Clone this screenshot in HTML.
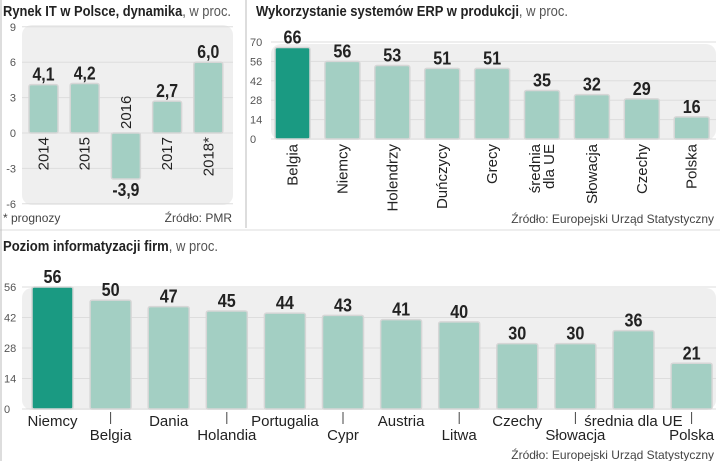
<!DOCTYPE html>
<html><head><meta charset="utf-8"><style>
body{margin:0;background:#fff;width:720px;height:461px;overflow:hidden;font-family:"Liberation Sans",sans-serif}
svg text{font-family:"Liberation Sans",sans-serif}
</style></head><body>
<svg id="s" width="720" height="461" xmlns="http://www.w3.org/2000/svg">
<line x1="246" y1="0" x2="246" y2="228" stroke="#bbb"/>
<line x1="0" y1="230" x2="720" y2="230" stroke="#ddd"/>
<line x1="1" y1="0" x2="1" y2="461" stroke="#bbb"/>
<text x="3" y="16" font-size="15" fill="#222" textLength="228" lengthAdjust="spacingAndGlyphs"><tspan font-weight="bold">Rynek IT w Polsce, dynamika</tspan><tspan fill="#555">, w proc.</tspan></text>
<text x="256" y="16" font-size="15" fill="#222" textLength="312" lengthAdjust="spacingAndGlyphs"><tspan font-weight="bold">Wykorzystanie systemów ERP w produkcji</tspan><tspan fill="#555">, w proc.</tspan></text>
<text x="3" y="251" font-size="15" fill="#222" textLength="215" lengthAdjust="spacingAndGlyphs"><tspan font-weight="bold">Poziom informatyzacji firm</tspan><tspan fill="#555">, w proc.</tspan></text>
<text x="3" y="222" font-size="12" fill="#444">* prognozy</text>
<text x="232" y="222" font-size="12" fill="#444" text-anchor="end">Źródło: PMR</text>
<text x="714" y="223" font-size="12" fill="#444" text-anchor="end">Źródło: Europejski Urząd Statystyczny</text>
<text x="714" y="459" font-size="12" fill="#444" text-anchor="end">Źródło: Europejski Urząd Statystyczny</text>
</svg>
<script>
const c1Cats=["2014","2015","2016","2017","2018*"];
const c1Vals=[4.1,4.2,-3.9,2.7,6.0];
const c1Labels=["4,1","4,2","-3,9","2,7","6,0"];
const c1Ticks=[9,6,3,0,-3,-6];
const c2Cats=["Belgia","Niemcy","Holendrzy","Duńczycy","Grecy","średnia|dla UE","Słowacja","Czechy","Polska"];
const c2Vals=[66,56,53,51,51,35,32,29,16];
const c2Ticks=[70,56,42,28,14,0];
const c3Cats=["Niemcy","Belgia","Dania","Holandia","Portugalia","Cypr","Austria","Litwa","Czechy","Słowacja","średnia dla UE","Polska"];
const c3Vals=[56,50,47,45,44,43,41,40,30,30,36,21];
const c3Ticks=[56,42,28,14,0];
const S=document.getElementById('s'),NS="http://www.w3.org/2000/svg";
function mk(t,a,txt){const e=document.createElementNS(NS,t);for(const k in a)e.setAttribute(k,a[k]);if(txt!=null)e.textContent=txt;S.appendChild(e);return e;}
function vlen(s){s=String(s);let n=0;for(const ch of s)n+=(ch==','?4:ch=='-'?5:9);return n;}
const TEAL="#a3cfc3",DARK="#1a9a82";
function panel(x,y,w,h){const p=mk('rect',{x:x,y:y,width:w,height:h,rx:10,fill:"#efefef"});
}
// chart 1
{const y0=133,k=11.8,yv=v=>y0-v*k;panel(22,25,211,180);
c1Ticks.forEach(t=>{const l=mk('line',{x1:22,x2:233,y1:yv(t),y2:yv(t),stroke:"#ddd"});
const tx=mk('text',{x:16,y:yv(t)+4,"font-size":11,fill:"#555","text-anchor":"end"},t);});
c1Vals.forEach((v,i)=>{const x=29+i*41.2,w=29,top=Math.min(yv(v),y0),h=Math.abs(yv(v)-y0);
const r=mk('rect',{x:x,y:top,width:w,height:h,rx:2,fill:TEAL,stroke:"#d6d6d6","stroke-width":1.5});
const ly=v>=0?yv(v)-4:yv(v)+17;const vl=mk('text',{x:x+w/2,y:ly,"font-size":18,"font-weight":"bold",fill:"#222","text-anchor":"middle",textLength:vlen(c1Labels[i]),lengthAdjust:"spacingAndGlyphs"},c1Labels[i]);
let cx=x+w/2+5,cy=v>=0?y0+4:y0-4,anc=v>=0?"end":"start";
const cl=mk('text',{x:cx,y:cy,"font-size":15,fill:"#222","text-anchor":anc,transform:`rotate(-90 ${cx} ${cy})`},c1Cats[i]);});}
// chart 2
{const y0=139,k=(139-42)/70,yv=v=>y0-v*k;panel(271,44,445,96);
c2Ticks.forEach(t=>{const l=mk('line',{x1:271,x2:716,y1:yv(t),y2:yv(t),stroke:"#ddd"});
const tx=mk('text',{x:250,y:yv(t)+4,"font-size":11,fill:"#555"},t);});
c2Vals.forEach((v,i)=>{const x=275+i*49.9,w=35;
const r=mk('rect',{x:x,y:yv(v),width:w,height:y0-yv(v),rx:2,fill:i==0?DARK:TEAL,stroke:"#d6d6d6","stroke-width":1.5});
const vl=mk('text',{x:x+w/2,y:yv(v)-4,"font-size":18,"font-weight":"bold",fill:"#222","text-anchor":"middle",textLength:vlen(v),lengthAdjust:"spacingAndGlyphs"},v);
const parts=c2Cats[i].split('|');parts.forEach((p,j)=>{const cx=x+w/2+5-(parts.length-1)*7+j*14,cy=144;
const cl=mk('text',{x:cx,y:cy,"font-size":15,fill:"#222","text-anchor":"end",transform:`rotate(-90 ${cx} ${cy})`},p);});});}
// chart 3
{const y0=409,k=(409-287)/56,yv=v=>y0-v*k;panel(22,288,694,122);
c3Ticks.forEach(t=>{const l=mk('line',{x1:22,x2:716,y1:yv(t),y2:yv(t),stroke:"#ddd"});
const tx=mk('text',{x:4,y:yv(t)+4,"font-size":11,fill:"#555"},t);});
c3Vals.forEach((v,i)=>{const x=32+i*58.1,w=41;
const r=mk('rect',{x:x,y:yv(v),width:w,height:y0-yv(v),rx:2,fill:i==0?DARK:TEAL,stroke:"#d6d6d6","stroke-width":1.5});
const vl=mk('text',{x:x+w/2,y:yv(v)-4,"font-size":18,"font-weight":"bold",fill:"#222","text-anchor":"middle",textLength:vlen(v),lengthAdjust:"spacingAndGlyphs"},v);
const low=i%2==1;if(low){const tl=mk('line',{x1:x+w/2,x2:x+w/2,y1:412,y2:424,stroke:"#444"});}
const cl=mk('text',{x:x+w/2,y:low?440:426,"font-size":15,fill:"#222","text-anchor":"middle"},c3Cats[i]);});}
</script>
</body></html>
